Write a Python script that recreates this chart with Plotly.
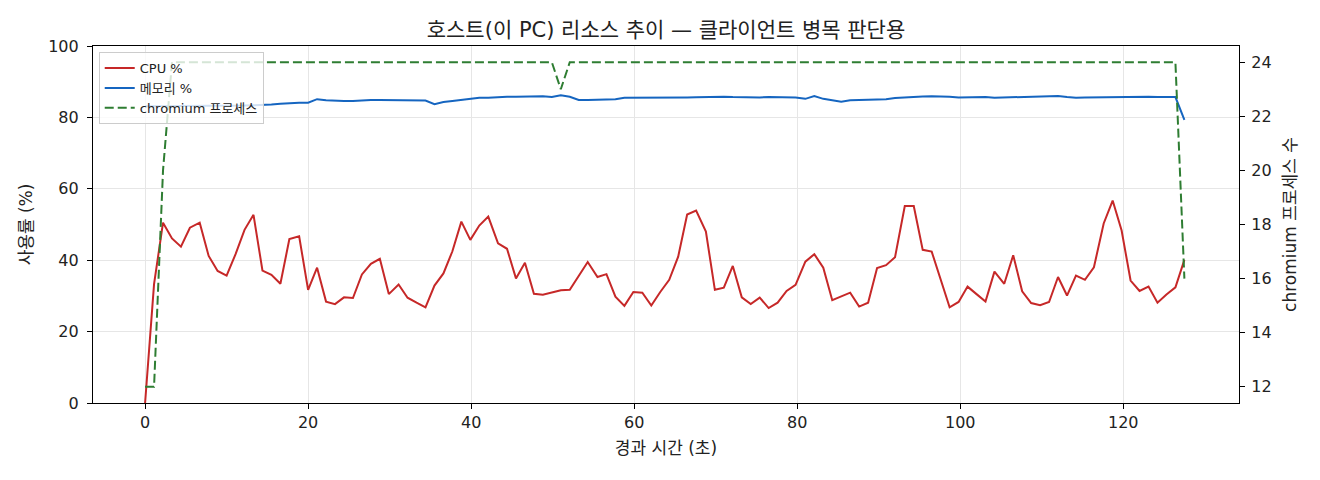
import plotly.graph_objects as go

# elapsed time (s) for each sample
elapsed_s = [
    0.0, 1.1, 2.2, 3.3, 4.4, 5.5, 6.7, 7.8, 8.9, 10.0,
    11.1, 12.2, 13.3, 14.4, 15.5, 16.6, 17.7, 18.9, 20.0, 21.1,
    22.2, 23.3, 24.4, 25.5, 26.6, 27.7, 28.8, 29.9, 31.1, 32.2,
    33.3, 34.4, 35.5, 36.6, 37.7, 38.8, 39.9, 41.0, 42.1, 43.3,
    44.4, 45.5, 46.6, 47.7, 48.8, 49.9, 51.0, 52.1, 53.2, 54.3,
    55.5, 56.6, 57.7, 58.8, 59.9, 61.0, 62.1, 63.2, 64.3, 65.4,
    66.5, 67.6, 68.8, 69.9, 71.0, 72.1, 73.2, 74.3, 75.4, 76.5,
    77.6, 78.7, 79.8, 81.0, 82.1, 83.2, 84.3, 85.4, 86.5, 87.6,
    88.7, 89.8, 90.9, 92.0, 93.2, 94.3, 95.4, 96.5, 97.6, 98.7,
    99.8, 100.9, 102.0, 103.1, 104.2, 105.4, 106.5, 107.6, 108.7, 109.8,
    110.9, 112.0, 113.1, 114.2, 115.3, 116.4, 117.6, 118.7, 119.8, 120.9,
    122.0, 123.1, 124.2, 125.3, 126.4, 127.5,
]

cpu_pct = [
    0.0, 33.3, 50.5, 46.1, 43.8, 49.1, 50.5, 41.2, 37.0, 35.7,
    41.7, 48.5, 52.7, 37.1, 35.9, 33.4, 45.9, 46.7, 31.7, 37.9,
    28.4, 27.7, 29.6, 29.4, 36.0, 39.0, 40.4, 30.5, 33.2, 29.5,
    28.1, 26.8, 32.9, 36.3, 42.5, 50.8, 45.7, 49.7, 52.2, 44.7,
    43.2, 34.9, 39.3, 30.6, 30.3, 30.9, 31.6, 31.7, 35.6, 39.5,
    35.3, 36.1, 29.8, 27.2, 31.1, 30.9, 27.3, 31.1, 34.5, 41.0,
    52.8, 53.9, 48.0, 31.7, 32.3, 38.4, 29.6, 27.7, 29.5, 26.6,
    28.1, 31.4, 33.1, 39.6, 41.7, 37.9, 28.8, 29.8, 30.9, 27.0,
    28.1, 37.8, 38.6, 40.8, 55.2, 55.2, 42.9, 42.4, 34.6, 26.8,
    28.3, 32.6, 30.5, 28.4, 36.8, 33.4, 41.4, 31.3, 28.0, 27.4,
    28.3, 35.3, 30.1, 35.7, 34.5, 38.0, 50.3, 56.7, 48.3, 34.3,
    31.4, 32.6, 28.1, 30.4, 32.4, 40.1,
]

mem_pct = [
    83.1, 83.1, 83.2, 83.2, 83.2, 83.2, 83.2, 83.2, 83.2, 83.3,
    83.3, 83.3, 83.4, 83.45, 83.6, 83.8, 84.0, 84.1, 84.1, 85.1,
    84.8, 84.6, 84.6, 84.6, 84.8, 84.9, 84.9, 84.9, 84.8, 84.7,
    84.7, 84.7, 83.7, 84.3, 84.6, 84.9, 85.2, 85.5, 85.5, 85.7,
    85.8, 85.8, 85.9, 86.0, 85.9, 85.7, 86.2, 85.8, 84.9, 84.9,
    85.0, 85.1, 85.1, 85.5, 85.5, 85.55, 85.5, 85.45, 85.4, 85.5,
    85.6, 85.65, 85.75, 85.9, 85.8, 85.7, 85.6, 85.5, 85.6, 85.7,
    85.7, 85.7, 85.6, 85.2, 86.0, 85.2, 84.9, 84.4, 84.8, 84.85,
    84.9, 85.0, 85.1, 85.4, 85.6, 85.8, 85.85, 85.9, 85.9, 85.8,
    85.6, 85.65, 85.7, 85.7, 85.5, 85.55, 85.6, 85.65, 85.7, 85.75,
    85.85, 86.0, 85.7, 85.5, 85.55, 85.6, 85.7, 85.75, 85.8, 85.8,
    85.75, 85.75, 85.7, 85.7, 85.7, 79.3,
]

chromium_procs = [12, 12, 20] + [24] * 43 + [23] + [24] * 68 + [16]

FONT = "DejaVu Sans, Noto Sans CJK KR, sans-serif"

fig = go.Figure()
fig.add_trace(go.Scatter(x=elapsed_s, y=cpu_pct, name="CPU %", mode="lines",
                         line=dict(color="#c62828", width=2)))
fig.add_trace(go.Scatter(x=elapsed_s, y=mem_pct, name="메모리 %", mode="lines",
                         line=dict(color="#1565c0", width=2)))
fig.add_trace(go.Scatter(x=elapsed_s, y=chromium_procs, name="chromium 프로세스", mode="lines",
                         line=dict(color="#2e7d32", width=2, dash="9px,4px"), yaxis="y2"))

axis_common = dict(
    showline=True, linecolor="black", linewidth=1.2,
    ticks="outside", ticklen=5, tickwidth=1, tickcolor="black",
    tickfont=dict(size=16, color="#222"),
    zeroline=False, automargin=False,
)

# page body has an 8px margin, so the figure is sized to fit inside it
fig.update_layout(
    width=1304, height=464,
    margin=dict(l=85, r=73, t=38, b=69),
    paper_bgcolor="white", plot_bgcolor="white",
    font=dict(family=FONT, color="#222"),
    title=dict(text="호스트(이 PC) 리소스 추이 — 클라이언트 병목 판단용",
               x=0.5, xref="paper", xanchor="center",
               y=1 - 22 / 464, yanchor="middle", font=dict(size=21)),
    xaxis=dict(range=[-6.39, 134.2], tickvals=[0, 20, 40, 60, 80, 100, 120],
               showgrid=True, gridcolor="#e6e6e6", mirror=True,
               title=dict(text="경과 시간 (초)", font=dict(size=17), standoff=10),
               **axis_common),
    yaxis=dict(range=[0, 100], tickvals=[0, 20, 40, 60, 80, 100],
               showgrid=True, gridcolor="#e6e6e6", ticklabelstandoff=5,
               title=dict(text="사용률 (%)", font=dict(size=17), standoff=11),
               **axis_common),
    yaxis2=dict(range=[11.4, 24.6], tickvals=[12, 14, 16, 18, 20, 22, 24],
                overlaying="y", side="right", showgrid=False, ticklabelstandoff=3,
                title=dict(text="chromium 프로세스 수", font=dict(size=17), standoff=13),
                **axis_common),
    legend=dict(x=0.005, y=0.983, xanchor="left", yanchor="top",
                bgcolor="rgba(255,255,255,0.8)", bordercolor="#cccccc", borderwidth=1,
                font=dict(size=13), itemwidth=30, tracegroupgap=0),
    showlegend=True,
)

fig.write_html("out.html")
